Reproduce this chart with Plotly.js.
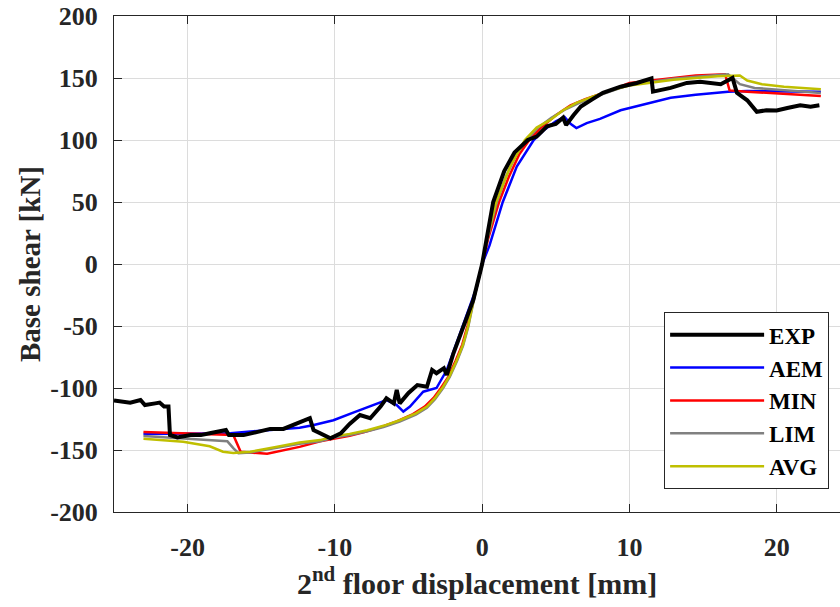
<!DOCTYPE html>
<html>
<head>
<meta charset="utf-8">
<script src="https://cdn.plot.ly/plotly-3.0.1.min.js"></script>
<style>
html,body{margin:0;padding:0;overflow:hidden;background:#fff;}
#chart{width:840px;height:607px;}
</style>
</head>
<body>
<div id="chart"></div>
<script>
// ---- Data ----
const expX = [-25, -24.5, -23.9, -23.2, -22.9, -22.2, -21.9, -21.6, -21.3, -21.2, -20.7, -19.8, -19.1, -18.5, -17.8, -17.4, -17.2, -16.2, -15.1, -14.4, -13.5, -12.6, -11.7, -11.45, -10.9, -10.3, -9.6, -9.0, -8.3, -7.9, -7.6, -6.9, -6.5, -6.0, -5.8, -5.6, -5.0, -4.4, -3.75, -3.4, -3.1, -2.6, -2.4, -1.95, -1.27, -0.6, 0, 0.3, 0.75, 1.5, 2.2, 3.1, 3.7, 4.4, 5.0, 5.5, 5.7, 6.2, 6.7, 7.5, 8.2, 9.4, 10.5, 11.5, 11.6, 12.8, 13.9, 14.8, 15.5, 16.2, 17.0, 17.3, 18.0, 18.65, 19.3, 20.0, 20.8, 21.6, 22.3, 22.9];
const expY = [-110, -110.5, -111.8, -109.7, -113.7, -112.4, -111.8, -115, -115, -137.9, -139.8, -137.9, -138, -136.5, -135, -133.9, -137.9, -138, -135, -133, -133, -128.5, -124.4, -134, -137, -140.5, -136.5, -129, -121.8, -123, -124.4, -115, -108.3, -112.4, -101.6, -112.4, -104, -97.6, -99, -85.5, -88.1, -84, -89.5, -72, -50.5, -29, 0, 20, 50, 75, 90, 100, 102.7, 111, 113, 118, 112, 120, 127, 133, 138, 143, 146, 149.7, 139, 142, 146, 147, 146, 145, 150, 138, 132, 122.8, 124, 123.8, 126, 128, 126.9, 128];

const aemX = [-23, -20, -17.1, -14.6, -12.4, -11.5, -10.1, -8.8, -7.4, -6.5, -5.8, -5.35, -4.9, -4, -3.1, -2.4, -1.5, -0.36, 0, 0.5, 1.4, 2.35, 3.5, 4.2, 5, 5.6, 6.0, 6.4, 7.1, 8, 9.4, 11.2, 12.8, 14.5, 16.7, 18, 20, 23];
const aemY = [-137, -137, -136.4, -134, -132, -130, -126, -120, -113.7, -109.7, -113.7, -119, -115, -103, -100, -85.5, -55.9, -18.3, 0, 15, 50, 78.5, 100, 108, 115, 118.5, 113, 109.6, 113.6, 117, 124, 129.6, 134, 136.5, 139, 139.5, 139.5, 139];

const minX = [-23, -20, -16.9, -16.4, -14.6, -12.4, -11, -10.1, -9, -8, -7, -5.8, -4.7, -3.9, -3.3, -2.8, -2.3, -1.8, -1.35, -1.0, -0.6, -0.3, 0, 0.4, 1.15, 1.8, 2.5, 3.2, 4, 5, 6, 7, 8.5, 10, 11.5, 13, 14.5, 16.5, 16.8, 18, 20, 23];
const minY = [-135.5, -136.5, -137.9, -151.4, -153, -147.5, -143, -141, -138.5, -135.5, -132, -127, -121, -115, -108, -100, -91, -78, -65, -50, -30, -15, 0, 20, 50, 70, 88, 100, 110, 120, 128, 133, 139, 146, 148, 150, 152, 153, 140, 139, 137.5, 135.5];

const limX = [-23, -20, -17.3, -16.9, -16.55, -15.75, -14, -12.4, -11, -10.1, -9, -7.8, -6.7, -5.6, -4.5, -3.75, -3.2, -2.65, -2.2, -1.7, -1.3, -0.95, -0.6, -0.3, 0, 0.35, 1.0, 1.6, 2.3, 3.0, 3.8, 4.7, 5.7, 6.6, 7.7, 8.9, 10, 11.5, 13, 14.5, 16.7, 17, 17.5, 18.5, 20, 23];
const limY = [-138.7, -141, -143, -148.4, -152.5, -152, -148.5, -145, -143, -140, -138, -135, -131.5, -127, -121.5, -116, -109, -100, -91, -78, -66, -51, -31, -15, 0, 20, 50, 70, 88, 100, 110, 118, 125, 130, 135, 140, 144.5, 147, 149.5, 151, 153, 150, 145, 142, 140.5, 138];

const avgX = [-23, -20.3, -18.5, -17.6, -16.9, -15.75, -14, -12.4, -11, -10.1, -9, -7.8, -6.7, -5.6, -4.5, -3.75, -3.2, -2.65, -2.2, -1.7, -1.3, -0.95, -0.6, -0.3, 0, 0.32, 0.95, 1.9, 2.9, 3.7, 4.6, 5.5, 6.4, 7.5, 8.7, 10, 11.5, 13, 14.5, 16, 17.5, 18, 19, 20.5, 23];
const avgY = [-141, -143.3, -147, -151.4, -152.5, -151.4, -147.5, -144, -142, -139, -137, -134, -130.5, -126, -120.5, -115, -108, -99, -90, -77, -65, -50, -30, -15, 0, 20, 50, 78.5, 100, 110, 116, 124, 130, 135, 140, 144, 146.5, 148.5, 150, 151.5, 152, 148, 145, 143, 141];

const seriesNames = ["EXP", "AEM", "MIN", "LIM", "AVG"];
const xTickVals = [-20, -10, 0, 10, 20];
const xTickText = ["-20", "-10", "0", "10", "20"];
const yTickVals = [-200, -150, -100, -50, 0, 50, 100, 150, 200];
const yTickText = ["-200", "-150", "-100", "-50", "0", "50", "100", "150", "200"];

// ---- Chart ----
const FONT = "'Liberation Serif', serif";
function tr(x, y, name, color, width, rank) {
  return {x: x, y: y, name: name, type: "scatter", mode: "lines",
          line: {color: color, width: width}, legendrank: rank};
}
const traces = [
  tr(aemX, aemY, seriesNames[1], "#0000ff", 2.5, 2),
  tr(minX, minY, seriesNames[2], "#ff0000", 2.5, 3),
  tr(limX, limY, seriesNames[3], "#808080", 2.5, 4),
  tr(avgX, avgY, seriesNames[4], "#bfbf00", 2.5, 5),
  tr(expX, expY, seriesNames[0], "#000000", 4, 1)
];

const axisCommon = {
  showgrid: true, gridcolor: "#dcdcdc", gridwidth: 1,
  zeroline: false, showline: true, linecolor: "#262626", linewidth: 1,
  ticks: "inside", ticklen: 8, tickwidth: 1, tickcolor: "#262626",
  tickfont: {family: FONT, size: 26, color: "#262626", weight: "bold"}
};

const layout = {
  width: 840, height: 607,
  margin: {l: 114, r: 0, t: 16, b: 95, pad: 0},
  paper_bgcolor: "#ffffff", plot_bgcolor: "#ffffff",
  showlegend: true,
  legend: {
    x: 0.985, y: 0.046, xanchor: "right", yanchor: "bottom",
    bgcolor: "#ffffff", bordercolor: "#262626", borderwidth: 1,
    font: {family: FONT, size: 23, color: "#000000", weight: "bold"},
    itemwidth: 94, tracegroupgap: 0
  },
  xaxis: Object.assign({}, axisCommon, {
    range: [-25, 24.3], tickvals: xTickVals, ticktext: xTickText,
    mirror: "ticks", ticklabelstandoff: 12,
    title: {text: "2<sup>nd</sup> floor displacement [mm]", standoff: 8,
            font: {family: FONT, size: 30, color: "#262626", weight: "bold"}}
  }),
  yaxis: Object.assign({}, axisCommon, {
    range: [-200, 200], tickvals: yTickVals, ticktext: yTickText,
    mirror: false, ticklabelstandoff: 10,
    title: {text: "Base shear [kN]", standoff: 0,
            font: {family: FONT, size: 29, color: "#262626", weight: "bold"}}
  })
};

Plotly.newPlot("chart", traces, layout, {displayModeBar: false, staticPlot: true});
</script>
</body>
</html>
